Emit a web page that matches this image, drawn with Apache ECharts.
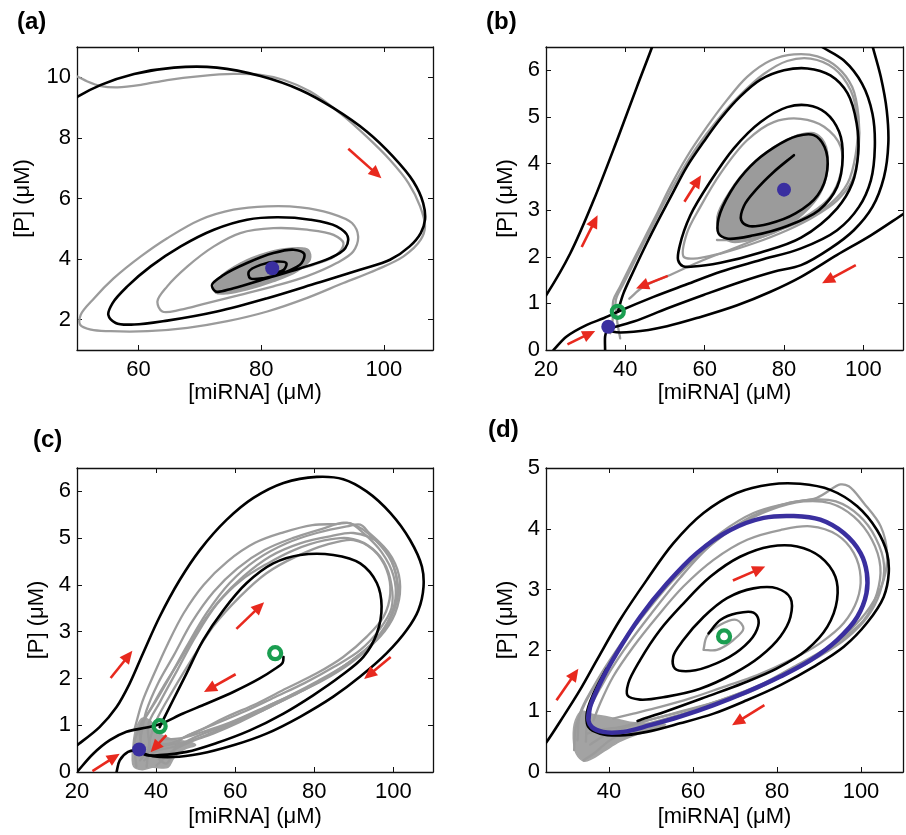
<!DOCTYPE html>
<html><head><meta charset="utf-8">
<script src="https://cdn.jsdelivr.net/npm/echarts@6/dist/echarts.min.js"></script>
<style>html,body{margin:0;padding:0;background:#fff}#c{width:906px;height:835px}</style>
</head><body><div id="c"></div>
<script>
// ---------- Panel (a) ----------
const A_black = [[49,9.2],[50.1,9.36],[53.9,9.75],[59.3,10.11],[65.8,10.32],[72.8,10.32],[79.9,10.04],[86.4,9.58],[91.8,8.98],[97.2,8.21],[101.5,7.38],[104.8,6.56],[106.4,5.85],[106.7,5.3],[106.0,4.86],[104.2,4.42],[101.0,3.98],[96.1,3.65],[89.1,3.21],[81.0,2.71],[72.8,2.27],[64.7,1.97],[59.3,1.84],[56.3,1.89],[55.1,2.16],[55.8,2.55],[58.2,3.1],[62.0,3.76],[66.9,4.42],[72.3,4.97],[77.7,5.3],[82.6,5.38],[88.0,5.3],[92.3,5.08],[94.1,4.75],[93.7,4.36],[91.2,4.03],[86.4,3.70],[81.0,3.37],[75.5,3.04],[72.6,2.93],[72.0,3.15],[73.9,3.48],[77.7,3.87],[82.0,4.2],[85.3,4.31],[87.0,4.18],[86.6,3.87],[84.2,3.59],[80.4,3.37],[78.2,3.37],[78.0,3.59],[79.9,3.81],[82.6,3.92],[84.1,3.87],[83.7,3.65],[81.8,3.52]];
const A_gray = [[49,10.1],[50.1,10.02],[51.7,9.86],[53.9,9.71],[56.6,9.67],[60.4,9.75],[64.7,9.91],[70.1,10.04],[75.5,10.11],[79.9,10.08],[83.7,9.91],[88.0,9.53],[92.9,8.81],[97.2,8.04],[101.0,7.27],[104.0,6.51],[105.9,5.74],[106.7,5.08],[106.0,4.64],[103.2,4.09],[98.8,3.65],[93.4,3.21],[87.4,2.71],[81.0,2.27],[74.5,1.95],[68.0,1.73],[61.5,1.62],[55.5,1.62],[52.3,1.67],[50.5,1.84],[50.6,2.16],[52.8,2.71],[56.0,3.37],[60.4,4.09],[64.7,4.69],[70.1,5.3],[75.5,5.63],[81.0,5.74],[86.4,5.71],[91.2,5.52],[94.8,5.19],[95.8,4.75],[95.0,4.25],[92.3,3.87],[87.4,3.43],[82.0,3.1],[76.6,2.82],[71.2,2.55],[66.9,2.33],[63.9,2.27],[63.1,2.6],[64.7,3.1],[68.0,3.76],[72.3,4.42],[76.6,4.86],[82.0,5.02],[87.5,4.97],[91.8,4.8],[93.4,4.53],[92.3,4.14],[88.5,3.81],[84.2,3.59]];
const A_fill = [[72.3,3.04],[73.4,3.43],[76.6,3.87],[81.0,4.22],[84.7,4.36],[87.7,4.31],[88.0,3.98],[85.8,3.59],[82.0,3.26],[77.7,2.99],[74.5,2.86],[72.6,2.88]];
const A_nodes = [[81.8,3.70]];
const A_arrows = [[94.2,7.64,99.6,6.67]];

// ---------- Panel (b) ----------
const B_left = [[18.9,1.04],[20.3,1.21],[26.1,2.07],[32.0,3.21],[37.9,4.5],[42.9,5.64],[46.7,6.49],[47.1,6.59]];
const B_sep = [[21.9,0],[25.2,0.29],[30.3,0.54],[34.5,0.68],[38.1,0.82],[47.1,1.14],[55.5,1.41],[64.0,1.68],[74.1,1.93],[84.3,2.18],[93.4,2.57],[98.9,3.07],[101.9,3.64],[102.9,4.36],[102.3,5.07],[99.7,5.71],[95.1,6.21],[89.8,6.49],[88.4,6.57]];
const B_t2 = [[35.7,0.46],[42.1,0.61],[50.5,0.89],[59.7,1.18],[69.0,1.46],[77.4,1.68],[84.3,1.82],[91.7,2.18],[97.6,2.57],[102.3,3.07],[105.2,3.71],[106.3,4.43],[105.9,5.14],[104.4,5.86],[102.4,6.49],[101.9,6.64]];
const B_low = [[110.3,2.93],[101.9,2.46],[93.4,2.04],[84.3,1.57],[76.6,1.25],[68.2,0.96],[59.0,0.71],[50.5,0.51],[42.1,0.39],[37.0,0.39],[35.7,0.46]];
const B_vert = [[34.9,0],[34.9,0.29],[35.2,0.39],[35.7,0.49]];
const B_spiral = [[38.1,0.82],[39.5,1.21],[42.1,1.70],[45.4,2.29],[48.8,2.86],[52.2,3.41],[55.5,3.93],[59.7,4.46],[64.0,4.96],[69.0,5.44],[74.1,5.8],[80.0,6.0],[85.9,6.04],[91.7,5.89],[96.0,5.51],[98.3,4.87],[98.7,4.21],[97.2,3.57],[93.4,3.04],[84.3,2.41],[74.1,2.09],[64.0,1.87],[57.2,1.79],[54.5,1.8],[53.3,1.93],[53.7,2.23],[56.4,2.89],[61.4,3.61],[67.3,4.32],[74.1,4.89],[80.8,5.21],[85.9,5.25],[90.5,5.09],[93.9,4.68],[94.8,4.14],[93.4,3.5],[88.8,3.0],[80.8,2.66],[72.4,2.46],[65.6,2.39],[63.5,2.5],[63.5,2.82],[66.5,3.39],[71.5,3.94],[77.4,4.34],[83.3,4.59],[87.5,4.61],[90.2,4.36],[90.9,3.86],[88.5,3.32],[82.9,2.93],[76.2,2.71],[71.1,2.66],[69.2,2.79],[69.9,3.09],[73.2,3.46],[77.4,3.82],[82.5,4.18]];
const B_fill = [[64.0,2.5],[63.1,2.86],[66.5,3.43],[71.5,3.96],[77.4,4.36],[83.3,4.61],[87.5,4.66],[90.2,4.46],[91.1,3.93],[89.2,3.36],[85.0,2.93],[79.1,2.57],[72.4,2.37],[66.5,2.32]];
const B_gray1 = [[36.2,0.36],[36.8,0.64],[37.0,1.07],[38.7,1.36],[41.2,1.79],[44.6,2.36],[48.0,2.93],[51.3,3.5],[55.5,4.14],[60.6,4.79],[65.6,5.36],[70.7,5.86],[76.6,6.21],[82.5,6.34],[88.4,6.3],[93.4,6.07],[97.2,5.64],[98.8,5.0],[98.8,4.29],[97.2,3.64],[93.4,3.21],[87.5,2.86],[80.8,2.57],[72.4,2.29],[64.0,2.07],[57.2,1.96],[54.7,2.0],[55.5,2.5],[58.9,3.07],[64.0,3.79],[70.7,4.5],[77.4,4.89],[84.2,4.96],[90.1,4.79],[94.3,4.36],[94.3,3.79],[91.7,3.29],[86.7,2.93],[80.0,2.64],[72.4,2.46],[66.5,2.36],[63.1,2.36]];
const B_gray2 = [[38.7,0.25],[37.9,0.64],[37.6,1.07],[39.6,1.43],[42.5,1.93],[46.3,2.57],[49.7,3.14],[53.9,3.79],[58.1,4.36],[63.2,4.93],[68.5,5.43],[74.9,5.92],[80.8,6.2],[86.7,6.25],[92.6,6.04],[96.8,5.57],[98.5,4.93],[98.1,4.21],[96.0,3.57],[91.7,3.14],[85.0,2.79],[76.6,2.5],[68.2,2.21],[59.7,1.93],[51.3,1.61],[44.6,1.36],[41.0,1.1]];
const B_nodes = [[80.0,3.44],[35.7,0.5]];
const B_saddles = [[38.1,0.82]];
const B_arrows = [[29.0,2.21,33.0,2.89],[54.9,3.18,59.1,3.75],[50.7,1.59,42.7,1.32],[98.1,1.82,89.6,1.43],[25.4,0.12,32.4,0.41]];

// ---------- Panel (c) ----------
const C_outer = [[19,0.5],[20,0.57],[25.7,0.96],[30.0,1.39],[33.3,1.89],[36.7,2.54],[40.9,3.32],[46.0,4.11],[51.1,4.75],[57.8,5.39],[64.6,5.86],[72.2,6.18],[80.6,6.31],[87.3,6.26],[93.2,6.0],[99.2,5.54],[104.2,4.96],[107.2,4.39],[107.6,3.96],[106.3,3.46],[103.4,3.04],[98.3,2.54],[91.6,2.04],[84.8,1.61],[76.4,1.18],[67.9,0.82],[59.5,0.57],[51.1,0.39],[44.3,0.32],[39.2,0.34],[35.9,0.42]];
const C_sep = [[20,0],[24.1,0.39],[28.3,0.68],[32.5,0.86],[37.6,0.95],[40.9,1.02],[46.8,1.25],[52.7,1.46],[59.5,1.71],[66.2,2.0],[69.6,2.18],[72.0,2.34],[72.2,2.46]];
const C_inner = [[40.9,0.96],[44.3,1.54],[47.7,2.11],[51.9,2.82],[57.0,3.46],[62.9,4.04],[69.6,4.46],[76.4,4.64],[84.8,4.64],[91.6,4.46],[95.8,4.04],[97.0,3.54],[95.8,2.96],[92.4,2.46],[86.5,2.04],[79.7,1.64],[72.2,1.25],[63.7,0.89],[55.3,0.62],[47.7,0.43],[40.9,0.36],[37.6,0.36],[35.9,0.43]];
const C_bot = [[30.0,0],[30.8,0.25],[32.9,0.43],[35.7,0.48]];
const C_gray1 = [[35.0,0.11],[34.6,0.68],[36.7,1.07],[40.1,1.54],[43.5,2.04],[47.7,2.68],[52.7,3.39],[58.6,4.04],[65.4,4.54],[73.0,4.89],[80.6,5.11],[88.2,5.25],[91.6,5.29],[93.9,5.11],[98.1,4.75],[100.6,4.25],[101.1,3.75],[99.0,3.25],[94.9,2.75],[89.0,2.32],[82.2,1.96],[74.6,1.64],[67.1,1.32],[59.5,1.04],[52.7,0.79],[47.7,0.64],[42.6,0.57],[38.4,0.46],[35.9,0.25]];
const C_gray2 = [[37.6,0.11],[38.4,0.68],[40.1,1.11],[44.3,1.75],[49.4,2.46],[54.4,3.11],[61.2,3.75],[67.9,4.25],[75.5,4.61],[83.1,4.86],[89.9,4.96],[94.9,4.75],[98.3,4.32],[99.2,3.82],[97.5,3.32],[93.2,2.89],[87.3,2.46],[80.6,2.11],[73.0,1.79],[65.4,1.46],[57.8,1.18],[51.1,0.89],[46.0,0.68],[42.6,0.18],[40.1,0.32]];
const C_gray3 = [[36.7,0.39],[35.9,0.96],[38.4,1.32],[41.8,1.82],[46.0,2.39],[51.1,3.11],[56.1,3.68],[62.0,4.18],[68.8,4.61],[76.4,4.89],[84.0,5.04],[89.9,5.11],[96.6,4.89],[100.4,4.46],[101.7,3.96],[100.4,3.39],[96.6,2.89],[90.7,2.46],[83.9,2.07],[76.4,1.71],[68.8,1.39],[61.2,1.07],[54.4,0.82],[48.5,0.64],[44.3,0.46],[40.1,0.14]];
const C_gray4 = [[36.0,0.7],[37.5,1.3],[40.5,1.9],[44.5,2.5],[49.0,3.2],[54.5,3.85],[60.5,4.35],[67.5,4.75],[74.5,5.0],[82.0,5.2],[87.5,5.33],[91.0,5.25],[95.5,4.95],[99.5,4.5],[101.0,3.95],[100.0,3.45],[97.5,3.0],[92.0,2.55],[85.5,2.15],[78.0,1.8],[70.5,1.5],[63.0,1.2],[56.0,0.95],[50.0,0.75],[45.0,0.55],[40.0,0.45],[37.0,0.25]];
const C_gray5 = [[38.5,0.5],[38.0,1.0],[41.0,1.5],[45.5,2.2],[50.0,2.9],[55.5,3.6],[61.5,4.1],[68.0,4.45],[75.0,4.75],[82.5,4.95],[88.5,5.0],[93.5,4.85],[97.5,4.5],[99.5,4.0],[99.5,3.5],[96.5,3.05],[91.5,2.6],[85.0,2.25],[77.5,1.9],[70.0,1.6],[62.5,1.3],[55.5,1.05],[49.0,0.82],[44.0,0.62],[39.5,0.6]];
const C_gray6 = [[34.5,0.9],[36.5,1.5],[39.5,2.1],[43.0,2.75],[47.0,3.4],[52.0,4.0],[58.0,4.5],[65.0,4.9],[72.0,5.12],[79.5,5.28],[85.5,5.3],[89.0,5.32],[92.5,5.1],[97.0,4.7],[100.0,4.2],[100.5,3.7],[98.5,3.2],[94.0,2.7],[88.0,2.3],[81.0,1.95],[73.5,1.62],[66.0,1.33],[58.5,1.05],[51.5,0.85],[46.0,0.72],[41.5,0.7]];
const C_fill = [[34.3,0.12],[34.2,0.6],[35.0,0.95],[36.5,1.15],[38.5,1.1],[40.5,0.85],[44.0,0.7],[48.0,0.65],[50.0,0.58],[47.0,0.48],[44.5,0.3],[43.0,0.1],[39.0,0.1],[36.5,0.05]];
const C_nodes = [[35.7,0.48]];
const C_saddles = [[40.9,0.98],[70.1,2.54]];
const C_arrows = [[28.5,2.01,34.0,2.59],[60.3,3.06,67.3,3.63],[60.1,2.09,52.1,1.71],[99.3,2.46,92.6,1.99],[23.9,0.02,30.8,0.39],[42.6,0.79,38.6,0.42]];

// ---------- Panel (d) ----------
const D_outer = [[24,0.4],[25.1,0.49],[29.1,0.91],[33.1,1.35],[37.1,1.84],[42.6,2.5],[49.0,3.16],[55.3,3.76],[62.5,4.26],[70.4,4.59],[78.4,4.73],[85.5,4.74],[92.7,4.64],[99.1,4.37],[103.8,3.98],[106.2,3.6],[106.6,3.27],[105.4,2.88],[101.4,2.45],[95.9,2.06],[88.7,1.73],[80.8,1.43],[72.8,1.18],[64.9,0.96],[56.9,0.8],[49.0,0.66],[42.6,0.6],[37.9,0.63],[35.1,0.74],[34.7,0.96],[36.3,1.29],[39.4,1.7]];
const D_inner = [[63.7,2.28],[66.5,2.5],[70.4,2.61],[74.4,2.62],[75.6,2.5],[74.8,2.28],[71.2,2.01],[65.7,1.79],[59.3,1.66],[55.7,1.7],[55.3,1.9],[57.7,2.17],[62.5,2.55],[68.1,2.86],[74.4,3.02],[80.0,3.02],[83.2,2.86],[83.2,2.55],[80.8,2.23],[76.0,1.9],[69.7,1.62],[61.7,1.37],[53.8,1.24],[47.4,1.19],[44.4,1.26],[44.6,1.46],[47.4,1.84],[52.2,2.34],[57.7,2.77],[64.1,3.21],[71.2,3.54],[78.4,3.71],[84.8,3.71],[90.3,3.54],[93.9,3.21],[94.3,2.83],[92.0,2.39],[87.1,2.01],[79.9,1.7],[71.9,1.46],[63.3,1.24],[54.5,1.02],[46.8,0.84]];
const D_cycle = [[35.1,0.85],[35.5,1.07],[37.9,1.46],[41.8,1.95],[47.4,2.55],[53.8,3.1],[60.9,3.6],[68.9,3.98],[76.8,4.18],[84.0,4.21],[90.3,4.15],[95.9,3.93],[99.9,3.6],[101.4,3.27],[101.3,2.94],[99.1,2.55],[94.3,2.17],[88.0,1.84],[80.8,1.57],[72.9,1.32],[64.9,1.1],[56.9,0.91],[49.8,0.77],[43.4,0.66],[38.6,0.66],[35.9,0.74],[35.1,0.85],[35.5,1.07],[37.9,1.46]];
const D_gray1 = [[32.5,0.52],[33.1,0.96],[36.3,1.4],[40.2,1.84],[45.8,2.39],[52.2,2.94],[59.3,3.49],[66.5,3.93],[74.4,4.26],[82.4,4.42],[89.5,4.51],[95.1,4.73],[97.1,4.7],[100.7,4.42],[104.7,4.04],[106.2,3.6],[105.4,3.16],[102.2,2.72],[97.5,2.34],[91.2,2.01],[84.0,1.73],[76.8,1.46],[68.9,1.24],[61.7,1.07],[53.8,0.93],[47.4,0.82],[42.6,0.74],[37.9,0.69],[34.7,0.63]];
const D_gray2 = [[31.7,0.36],[32.1,0.74],[34.3,1.13],[37.9,1.57],[42.6,2.06],[48.6,2.61],[55.3,3.16],[62.5,3.63],[70.4,4.04],[78.4,4.31],[86.3,4.45],[92.7,4.42],[98.3,4.2],[102.6,3.82],[104.6,3.38],[103.8,2.94],[100.7,2.5],[95.1,2.17],[88.7,1.87],[81.6,1.59],[73.7,1.32],[65.7,1.13],[57.7,0.96],[50.6,0.82],[45.0,0.69],[40.2,0.52],[36.3,0.3],[33.9,0.19]];
const D_gray3 = [[36.3,0.85],[37.9,1.13],[41.0,1.57],[45.8,2.06],[51.4,2.55],[57.7,3.05],[64.9,3.49],[72.9,3.82],[80.8,3.98],[88.0,4.04],[94.3,3.9],[98.3,3.6],[99.9,3.21],[99.1,2.83],[95.9,2.45],[90.3,2.12],[83.2,1.84],[75.2,1.59],[67.3,1.4],[59.3,1.21],[52.2,1.07],[45.8,0.96],[41.0,0.88]];
const D_gray4 = [[62.5,2.01],[63.3,2.23],[66.5,2.42],[70.4,2.5],[72.0,2.36],[69.6,2.17],[65.7,2.01],[62.5,2.01]];
const D_gray5 = [[34.5,0.5],[35.0,0.95],[38.5,1.45],[43.5,2.0],[50.0,2.6],[57.0,3.2],[64.5,3.75],[72.5,4.15],[80.5,4.38],[88.0,4.48],[94.0,4.45],[99.5,4.22],[103.5,3.85],[105.5,3.4],[104.5,2.95],[101.5,2.55],[96.5,2.2],[90.0,1.9],[82.5,1.62],[74.5,1.38],[66.5,1.18],[58.5,1.02],[51.0,0.88],[44.5,0.75],[39.0,0.6],[35.5,0.45]];
const D_fill = [[31.5,0.55],[32.0,0.85],[33.5,1.0],[36.0,0.95],[40.0,0.9],[45.0,0.82],[50.0,0.8],[53.5,0.78],[50.0,0.68],[46.0,0.6],[42.5,0.5],[39.0,0.35],[36.0,0.22],[34.0,0.18],[32.2,0.3]];
const D_saddles = [[67.4,2.23]];
const D_arrows = [[27.5,1.18,32.7,1.7],[69.5,3.15,77.2,3.38],[77.0,1.1,69.3,0.77]];

// ---------- tick values ----------
const A_xticks = [60,80,100], A_yticks = [2,4,6,8,10];
const B_xticks = [20,40,60,80,100], B_yticks = [0,1,2,3,4,5,6];
const C_xticks = [20,40,60,80,100], C_yticks = [0,1,2,3,4,5,6];
const D_xticks = [40,60,80,100], D_yticks = [0,1,2,3,4,5];

const FONT = 'Liberation Sans, Arial, Helvetica, sans-serif';
const BLACK = '#000', GRAY = '#9b9b9b', RED = '#e8291e', BLUE = '#3a2fa0', GREEN = '#1a9e50', PURPLE = '#3a2f9f';

const grids = [
  {left:77, top:47, width:356, height:303},
  {left:546, top:47, width:357, height:303},
  {left:77, top:468, width:356, height:304},
  {left:546, top:468, width:357, height:304}
];
const panels = [
  {xmin:50, xmax:108, xt:A_xticks, ymin:1, ymax:11, yt:A_yticks, yGap:43, xGap:31},
  {xmin:20, xmax:110, xt:B_xticks, ymin:0, ymax:6.5, yt:B_yticks, yGap:29, xGap:31},
  {xmin:20, xmax:110, xt:C_xticks, ymin:0, ymax:6.5, yt:C_yticks, yGap:29, xGap:34},
  {xmin:25, xmax:110, xt:D_xticks, ymin:0, ymax:5, yt:D_yticks, yGap:29, xGap:34}
];

const xAxes = [], yAxes = [];
panels.forEach((p, i) => {
  const common = {type:'value', gridIndex:i, splitLine:{show:false},
    axisLine:{show:true, onZero:false, lineStyle:{color:'#111', width:1.3}}};
  const tick = vals => ({show:true, inside:true, length:5, customValues:vals, lineStyle:{color:'#111', width:1}});
  xAxes.push(Object.assign({}, common, {position:'bottom', min:p.xmin, max:p.xmax,
    name:'[miRNA] (μM)', nameLocation:'middle', nameGap:p.xGap,
    nameTextStyle:{fontFamily:FONT, fontSize:22, color:'#000'},
    axisTick:tick(p.xt),
    axisLabel:{show:true, customValues:p.xt, margin:9, fontFamily:FONT, fontSize:22, color:'#000'}}));
  xAxes.push(Object.assign({}, common, {position:'top', min:p.xmin, max:p.xmax, axisTick:tick(p.xt), axisLabel:{show:false}}));
  yAxes.push(Object.assign({}, common, {position:'left', min:p.ymin, max:p.ymax,
    name:'[P] (μM)', nameLocation:'middle', nameGap:p.yGap,
    nameTextStyle:{fontFamily:FONT, fontSize:22, color:'#000'},
    axisTick:tick(p.yt),
    axisLabel:{show:true, customValues:p.yt, margin:6, fontFamily:FONT, fontSize:22, color:'#000'}}));
  yAxes.push(Object.assign({}, common, {position:'right', min:p.ymin, max:p.ymax, axisTick:tick(p.yt), axisLabel:{show:false}}));
});

// centripetal Catmull-Rom path through pixel points
function splinePath(P, closed) {
  const n = P.length;
  if (n < 2) return '';
  const get = k => {
    if (closed) return P[(k + n) % n];
    if (k < 0) return [2*P[0][0]-P[1][0], 2*P[0][1]-P[1][1]];
    if (k >= n) return [2*P[n-1][0]-P[n-2][0], 2*P[n-1][1]-P[n-2][1]];
    return P[k];
  };
  const dist = (a, b) => Math.max(Math.sqrt(Math.hypot(b[0]-a[0], b[1]-a[1])), 1e-3);
  let s = 'M' + P[0][0].toFixed(2) + ' ' + P[0][1].toFixed(2);
  const segs = closed ? n : n - 1;
  for (let k = 0; k < segs; k++) {
    const p0 = get(k-1), p1 = get(k), p2 = get(k+1), p3 = get(k+2);
    const d1 = dist(p0,p1), d2 = dist(p1,p2), d3 = dist(p2,p3);
    const b1 = [0,1].map(j => (d1*d1*p2[j] - d2*d2*p0[j] + (2*d1*d1 + 3*d1*d2 + d2*d2)*p1[j]) / (3*d1*(d1+d2)));
    const b2 = [0,1].map(j => (d3*d3*p1[j] - d2*d2*p3[j] + (2*d3*d3 + 3*d3*d2 + d2*d2)*p2[j]) / (3*d3*(d3+d2)));
    s += ' C' + b1[0].toFixed(2) + ' ' + b1[1].toFixed(2) + ' ' + b2[0].toFixed(2) + ' ' + b2[1].toFixed(2) + ' ' + p2[0].toFixed(2) + ' ' + p2[1].toFixed(2);
  }
  if (closed) s += ' Z';
  return s;
}

const series = [];
function curve(i, pts, color, width, z) {
  series.push({type:'custom', xAxisIndex:2*i, yAxisIndex:2*i, data:[pts[0]], z:z, silent:true, clip:true,
    renderItem:(params, api) => ({type:'path', shape:{pathData:splinePath(pts.map(q => api.coord(q)), false)},
      style:{stroke:color, lineWidth:width, fill:'none', lineJoin:'round', lineCap:'round'}})});
}
function blob(i, pts, color) {
  series.push({type:'custom', xAxisIndex:2*i, yAxisIndex:2*i, data:[pts[0]], z:1, silent:true, clip:true,
    renderItem:(params, api) => ({type:'path', shape:{pathData:splinePath(pts.map(q => api.coord(q)), true)},
      style:{fill:color, stroke:color, lineWidth:1.5}})});
}
function arrows(i, data) {
  series.push({type:'custom', xAxisIndex:2*i, yAxisIndex:2*i, data:data, z:6, silent:true,
    encode:{x:[0,2], y:[1,3]},
    renderItem:(params, api) => {
      const p1 = api.coord([api.value(0), api.value(1)]);
      const p2 = api.coord([api.value(2), api.value(3)]);
      const dx = p2[0]-p1[0], dy = p2[1]-p1[1], L = Math.hypot(dx, dy);
      const ux = dx/L, uy = dy/L, hl = 13, hw = 6;
      const b = [p2[0]-ux*hl, p2[1]-uy*hl];
      return {type:'group', children:[
        {type:'line', shape:{x1:p1[0], y1:p1[1], x2:b[0]+ux*2, y2:b[1]+uy*2}, style:{stroke:RED, lineWidth:2.6}},
        {type:'polygon', shape:{points:[p2, [b[0]-uy*hw, b[1]+ux*hw], [b[0]+uy*hw, b[1]-ux*hw]]}, style:{fill:RED}}
      ]};
    }});
}
function dots(i, data) {
  series.push({type:'scatter', xAxisIndex:2*i, yAxisIndex:2*i, data:data, symbol:'circle', symbolSize:14,
    itemStyle:{color:BLUE, opacity:1}, z:8, silent:true});
}
function rings(i, data) {
  series.push({type:'scatter', xAxisIndex:2*i, yAxisIndex:2*i, data:data, symbol:'circle', symbolSize:12,
    itemStyle:{color:'rgba(255,255,255,0)', borderColor:GREEN, borderWidth:4.2, opacity:1}, z:9, silent:true});
}
const GW = 2.3, BW = 2.6;
// (a)
blob(0, A_fill, GRAY);
curve(0, A_gray, GRAY, GW, 2);
curve(0, A_black, BLACK, BW, 3);
arrows(0, A_arrows);
dots(0, A_nodes);
// (b)
blob(1, B_fill, GRAY);
[B_gray1, B_gray2].forEach(d => curve(1, d, GRAY, GW, 2));
[B_left, B_sep, B_t2, B_low, B_vert, B_spiral].forEach(d => curve(1, d, BLACK, BW, 3));
arrows(1, B_arrows);
dots(1, B_nodes);
rings(1, B_saddles);
// (c)
blob(2, C_fill, '#a3a3a3');
[C_gray1, C_gray2, C_gray3, C_gray4, C_gray5, C_gray6].forEach(d => curve(2, d, GRAY, GW, 2));
[C_outer, C_sep, C_inner, C_bot].forEach(d => curve(2, d, BLACK, BW, 3));
arrows(2, C_arrows);
dots(2, C_nodes);
rings(2, C_saddles);
// (d)
blob(3, D_fill, '#a3a3a3');
[D_gray1, D_gray2, D_gray3, D_gray4, D_gray5].forEach(d => curve(3, d, GRAY, GW, 2));
[D_outer, D_inner].forEach(d => curve(3, d, BLACK, BW, 3));
curve(3, D_cycle, PURPLE, 4.5, 4);
arrows(3, D_arrows);
rings(3, D_saddles);

const labels = [['(a)',17,10],['(b)',486,10],['(c)',33,428],['(d)',488,418]];
const chart = echarts.init(document.getElementById('c'), null, {renderer:'canvas'});
chart.setOption({
  animation:false,
  backgroundColor:'#fff',
  grid:grids.map(g => Object.assign({containLabel:false, show:false}, g)),
  xAxis:xAxes, yAxis:yAxes, series:series,
  graphic:labels.map(l => ({type:'text', left:l[1], top:l[2],
    style:{text:l[0], font:'bold 24px ' + FONT, fill:'#000'}}))
});
</script></body></html>
